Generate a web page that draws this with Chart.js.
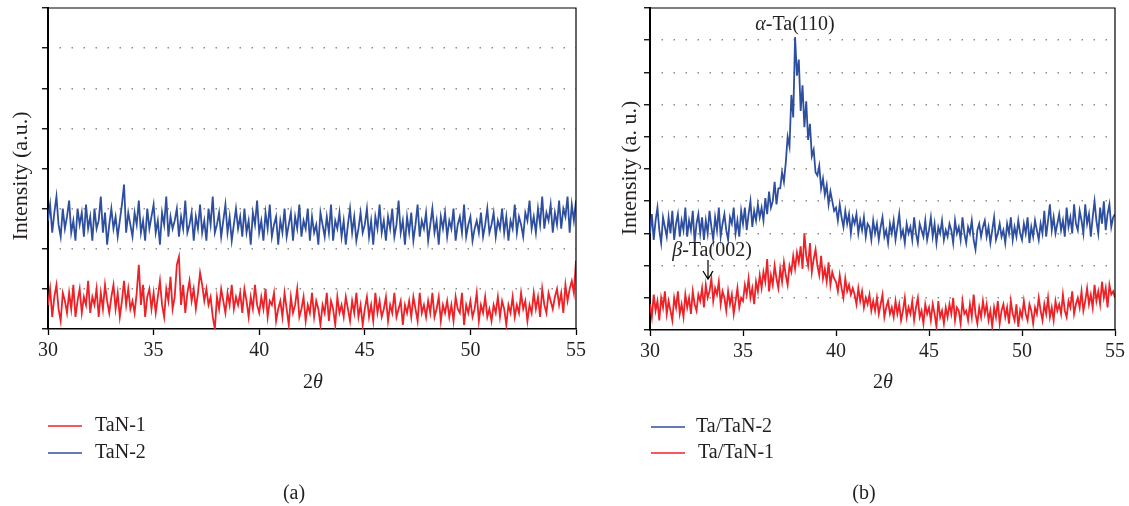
<!DOCTYPE html>
<html><head><meta charset="utf-8">
<script src="https://cdn.jsdelivr.net/npm/chart.js@4"></script>
<style>html,body{margin:0;padding:0;background:#fff;overflow:hidden;width:1129px;height:506px}
canvas{position:absolute;top:0}
#ca{left:0}#cb{left:590px}</style></head>
<body><canvas id="ca" width="590" height="506"></canvas><canvas id="cb" width="539" height="506"></canvas>
<script>
// 2θ sampling (degrees), 30.0 .. 55.0 step 0.1
const theta = Array.from({length: 251}, (_, i) => Math.round((30 + i * 0.1) * 10) / 10);
const xTicks = [30, 35, 40, 45, 50, 55];

// Panel (a) – intensity, arbitrary units (0..80)
const tan2 = [
27,31,24,29,33,26,23,30,25,28,
32,24,27,22,30,26,29,23,31,25,
28,22,30,25,27,33,24,29,21,26,
30,25,28,23,27,31,36,24,29,26,
23,29,26,32,24,27,22,30,25,28,
31,24,27,21,29,26,33,23,28,25,
27,30,23,28,25,32,24,26,29,22,
28,25,31,24,27,22,30,26,33,24,
26,29,23,27,31,24,28,22,26,30,
25,28,23,30,24,27,21,29,26,32,
24,27,22,29,25,31,23,26,28,21,
27,24,30,23,26,29,22,28,25,31,
23,27,25,30,22,28,24,26,21,29,
26,23,28,24,31,22,27,25,29,23,
27,21,26,30,24,28,22,25,29,24,
26,30,23,27,21,28,25,31,24,27,
22,28,25,30,23,26,32,24,27,21,
28,24,29,22,26,31,23,27,25,29,
22,26,30,24,27,21,28,25,29,23,
27,25,30,22,26,28,24,31,23,26,
28,22,25,27,24,29,23,26,30,24,
26,29,23,27,25,30,24,28,22,27,
25,31,24,28,26,23,29,27,32,25,
28,24,30,26,33,25,29,27,31,24,
29,26,32,25,30,28,33,24,31,27,
32];
const tan1 = [
6,10,3,8,11,5,2,9,7,4,
9,5,11,3,7,10,4,8,6,12,
4,8,6,10,3,9,5,11,7,4,
8,11,5,9,3,7,12,6,10,5,
7,4,9,16,6,11,3,8,10,5,
9,4,8,12,6,3,10,7,13,5,
8,16,18,6,11,4,9,12,7,10,
5,9,14,11,7,10,6,8,3,0,
8,5,10,7,4,9,6,11,5,8,
6,9,4,10,7,3,8,5,11,6,
4,8,5,10,3,7,6,9,2,5,
7,3,9,5,1,8,4,6,10,3,
5,8,2,6,4,9,3,7,5,1,
6,4,9,2,7,5,1,8,4,6,
3,8,5,2,7,4,9,3,6,1,
5,8,3,6,2,9,4,7,3,5,
8,2,6,4,9,3,5,7,1,6,
4,7,3,8,5,2,9,4,6,3,
7,4,9,3,5,8,2,6,4,7,
3,6,2,8,5,4,9,1,6,4,
7,3,5,9,2,6,4,8,3,5,
2,6,4,8,3,7,5,1,6,4,
8,3,6,4,9,5,7,2,6,4,
9,5,8,3,10,6,4,9,7,5,
8,10,6,9,4,11,7,10,12,9,
17];

// Panel (b) – intensity, arbitrary units (0..100)
const tatan2 = [
30,36,28,34,38,31,27,35,32,29,
35,30,37,28,33,36,29,34,31,38,
29,34,31,37,27,33,36,30,35,28,
34,30,37,32,28,35,31,38,29,33,
36,31,28,35,33,38,30,34,29,37,
33,38,31,36,40,32,37,34,39,35,
38,34,41,36,43,38,40,46,39,44,
44,49,46,52,60,57,73,66,91,79,
84,68,76,63,71,59,64,54,56,49,
48,51,44,47,42,45,39,43,40,37,
38,34,39,35,32,37,33,36,30,35,
33,36,30,34,31,35,29,33,32,28,
34,30,33,28,32,35,29,31,27,33,
30,34,28,32,36,29,31,27,33,30,
32,28,35,30,27,33,31,29,34,28,
31,35,29,33,27,32,30,34,28,31,
29,33,31,27,34,30,32,28,35,30,
27,32,30,34,28,25,31,33,29,32,
34,29,32,27,31,35,28,30,33,29,
31,27,33,30,35,28,32,29,34,30,
28,33,30,35,27,32,29,34,31,28,
33,30,37,29,34,39,31,35,30,33,
36,31,34,29,38,32,35,30,39,33,
31,37,34,30,39,33,36,29,35,40,
34,30,38,33,40,31,36,39,32,35,
36];
const tatan1 = [
8,4,11,6,9,3,10,7,12,5,
9,6,3,10,7,12,5,8,4,11,
7,10,5,12,8,6,11,9,13,7,
14,10,12,16,9,13,11,15,8,12,
10,6,12,8,11,5,9,13,7,10,
9,14,11,16,10,13,8,15,12,17,
13,18,15,22,12,17,14,20,16,13,
19,15,21,17,14,20,18,23,19,24,
21,26,19,30,23,20,27,18,22,25,
20,17,23,16,19,15,21,14,18,16,
15,12,17,13,10,16,12,14,11,13,
11,8,13,9,12,7,10,8,11,6,
9,6,10,5,8,11,4,7,9,5,
7,4,9,5,8,3,6,10,4,7,
5,9,3,7,10,4,6,2,8,5,
7,3,8,5,1,9,4,6,2,7,
4,8,5,10,3,7,6,2,9,5,
6,3,8,4,11,5,2,7,4,9,
5,8,3,6,1,7,4,9,2,6,
8,4,7,2,9,5,3,8,1,6,
4,9,5,3,8,6,2,7,5,10,
6,3,8,5,10,4,7,3,9,6,
8,5,11,6,4,9,7,12,5,8,
10,7,12,6,9,13,8,11,7,14,
9,12,8,15,10,13,7,14,11,12,
10];

const RED = '#ee2127', BLUE = '#2e4f9f';
const FONT = '"Liberation Serif", "DejaVu Serif", serif';
const TXT = '#231f20';

function runs(ctx, parts, cx, cy, size) {
  let w = 0;
  const ms = parts.map(([t, it]) => { ctx.font = (it ? 'italic ' : '') + size + 'px ' + FONT; const m = ctx.measureText(t).width; w += m; return m; });
  let x = cx - w / 2;
  ctx.textBaseline = 'middle'; ctx.textAlign = 'left'; ctx.fillStyle = TXT;
  parts.forEach(([t, it], i) => { ctx.font = (it ? 'italic ' : '') + size + 'px ' + FONT; ctx.fillText(t, x, cy); x += ms[i]; });
}
function vtext(ctx, t, cx, cy, size) {
  ctx.save(); ctx.translate(cx, cy); ctx.rotate(-Math.PI / 2);
  ctx.font = size + 'px ' + FONT; ctx.fillStyle = TXT; ctx.textAlign = 'center'; ctx.textBaseline = 'middle';
  ctx.fillText(t, 0, 0); ctx.restore();
}
function legendItem(ctx, x1, x2, y, color, label, tx) {
  ctx.save(); ctx.strokeStyle = color; ctx.lineWidth = 1.6;
  ctx.beginPath(); ctx.moveTo(x1, y); ctx.lineTo(x2, y); ctx.stroke(); ctx.restore();
  ctx.font = '20px ' + FONT; ctx.fillStyle = TXT; ctx.textAlign = 'left'; ctx.textBaseline = 'middle';
  ctx.fillText(label, tx, y);
}

function makeChart(id, cfg) {
  const extras = {
    id: 'extras_' + id,
    afterDraw(chart) {
      const ctx = chart.ctx, ca = chart.chartArea;
      ctx.save();
      ctx.strokeStyle = '#000'; ctx.lineWidth = 1.2;
      ctx.beginPath(); ctx.moveTo(ca.left, ca.top); ctx.lineTo(ca.right, ca.top); ctx.lineTo(ca.right, ca.bottom); ctx.stroke();
      cfg.extras(ctx, chart);
      ctx.restore();
    }
  };
  return new Chart(document.getElementById(id), {
    type: 'line',
    data: { datasets: cfg.series.map(s => ({
      label: s.label,
      data: theta.map((x, i) => ({ x, y: s.values[i] })),
      borderColor: s.color, borderWidth: 1.8, pointRadius: 0, fill: false, tension: 0
    })) },
    options: {
      responsive: false, animation: false, devicePixelRatio: 1,
      layout: { padding: { top: 8, right: cfg.padRight, bottom: 106, left: 0 } },
      plugins: { legend: { display: false }, tooltip: { enabled: false } },
      scales: {
        x: {
          type: 'linear', min: 30, max: 55,
          afterBuildTicks: s => { s.ticks = xTicks.map(v => ({ value: v })); },
          afterFit: s => { s.height = cfg.xH; },
          grid: { drawOnChartArea: false, drawTicks: true, tickLength: 6, tickColor: '#000', tickWidth: 1.3, color: '#000' },
          border: { color: '#000', width: 1.5 },
          ticks: { font: { family: FONT, size: 20 }, color: TXT, padding: 4, maxRotation: 0, autoSkip: false }
        },
        y: {
          min: 0, max: cfg.yMax,
          ticks: { stepSize: 10, display: false },
          afterFit: s => { s.width = cfg.yW; },
          grid: {
            color: c => (c.tick && (c.tick.value === 0 || c.tick.value === cfg.yMax)) ? 'rgba(0,0,0,0)' : '#8c8c8c',
            lineWidth: 1.5, tickLength: 6, tickColor: '#000', tickWidth: 1.3
          },
          border: { color: '#000', width: 2, dash: [1.5, 10.5], dashOffset: 1.5 }
        }
      }
    },
    plugins: [extras]
  });
}

makeChart('ca', {
  yMax: 80, yW: 48, xH: 71, padRight: 13,
  series: [ { label: 'TaN-2', values: tan2, color: BLUE }, { label: 'TaN-1', values: tan1, color: RED } ],
  extras(ctx) {
    vtext(ctx, 'Intensity (a.u.)', 21, 176, 22);
    runs(ctx, [['2', 0], ['θ', 1]], 313, 383, 20);
    legendItem(ctx, 48, 82, 426, RED, 'TaN-1', 95);
    legendItem(ctx, 48, 82, 453, BLUE, 'TaN-2', 95);
    runs(ctx, [['(a)', 0]], 294, 494, 20);
  }
});

makeChart('cb', {
  yMax: 100, yW: 60, xH: 70, padRight: 14,
  series: [ { label: 'Ta/TaN-2', values: tatan2, color: BLUE }, { label: 'Ta/TaN-1', values: tatan1, color: RED } ],
  extras(ctx) {
    vtext(ctx, 'Intensity (a. u.)', 40, 168, 22);
    runs(ctx, [['α', 1], ['-Ta(110)', 0]], 205, 25, 20);
    runs(ctx, [['β', 1], ['-Ta(002)', 0]], 122, 251, 20);
    ctx.strokeStyle = '#000'; ctx.lineWidth = 1.2;
    ctx.beginPath(); ctx.moveTo(118, 260); ctx.lineTo(118, 279);
    ctx.moveTo(113, 271); ctx.lineTo(118, 279); ctx.lineTo(123, 271); ctx.stroke();
    runs(ctx, [['2', 0], ['θ', 1]], 293, 383, 20);
    legendItem(ctx, 61, 95, 427, BLUE, 'Ta/TaN-2', 106);
    legendItem(ctx, 61, 95, 453, RED, 'Ta/TaN-1', 108);
    runs(ctx, [['(b)', 0]], 274, 494, 20);
  }
});
</script>
</body></html>
